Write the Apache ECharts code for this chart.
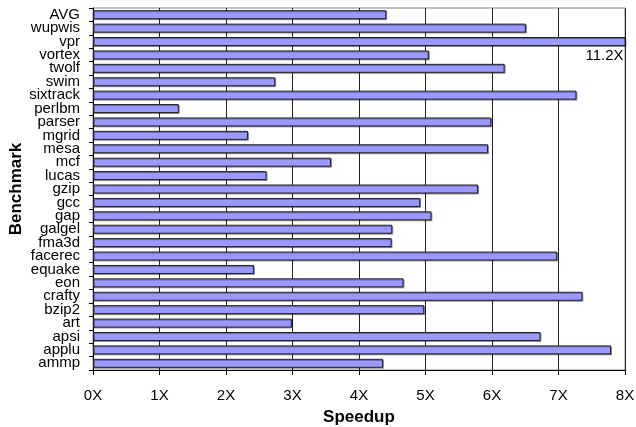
<!DOCTYPE html>
<html><head><meta charset="utf-8">
<script src="https://cdn.jsdelivr.net/npm/echarts@6/dist/echarts.min.js"></script>
<style>html,body{margin:0;padding:0;background:#fff}#c{width:636px;height:427px}</style>
</head><body><div id="c"></div>
<script>
var benchmarks = ["AVG","wupwis","vpr","vortex","twolf","swim","sixtrack","perlbm","parser","mgrid","mesa","mcf","lucas","gzip","gcc","gap","galgel","fma3d","facerec","equake","eon","crafty","bzip2","art","apsi","applu","ammp"];
var speedups = [4.41,6.51,11.2,5.05,6.19,2.74,7.27,1.29,5.99,2.33,5.94,3.58,2.61,5.79,4.92,5.09,4.50,4.49,6.98,2.42,4.67,7.36,4.98,2.99,6.73,7.79,4.36];
var xTicks = ["0X","1X","2X","3X","4X","5X","6X","7X","8X"];
var xMax = 8;

var font = "'Liberation Sans', Arial, Helvetica, sans-serif";
var chart = echarts.init(document.getElementById('c'));
var data = speedups.map(function(v){
  if (v > xMax) {
    return {value: v, label: {show: true, position: 'insideRight', distance: 2, offset: [0, 14],
      formatter: v.toFixed(1) + 'X', color: '#000', fontSize: 15, fontFamily: font}};
  }
  return v;
});
chart.setOption({
  animation: false,
  grid: {left: 93, right: 11, top: 8, bottom: 57, outerBoundsMode: 'none', containLabel: false,
    show: true, borderColor: '#888', borderWidth: 1},
  xAxis: {
    type: 'value', min: 0, max: xMax, interval: 1,
    name: 'Speedup', nameLocation: 'middle', nameGap: 39, nameMoveOverlap: false,
    nameTextStyle: {fontFamily: font, fontWeight: 'bold', fontSize: 17, color: '#000'},
    axisLine: {show: true, lineStyle: {color: '#000', width: 1}},
    axisTick: {show: true, length: 5, lineStyle: {color: '#000'}},
    axisLabel: {margin: 18, fontFamily: font, fontSize: 15, color: '#000',
      formatter: function(v){ return xTicks[Math.round(v)]; }},
    splitLine: {show: true, lineStyle: {color: '#222', width: 1}}
  },
  yAxis: {
    type: 'category', data: benchmarks, inverse: true,
    name: 'Benchmark', nameLocation: 'middle', nameGap: 68, nameRotate: 90, nameMoveOverlap: false,
    nameTextStyle: {fontFamily: font, fontWeight: 'bold', fontSize: 17, color: '#000'},
    axisLine: {show: true, lineStyle: {color: '#000', width: 1}},
    axisTick: {show: true, length: 4, lineStyle: {color: '#000'}},
    axisLabel: {interval: 0, margin: 13, fontFamily: font, fontSize: 15, color: '#000', lineHeight: 14},
    splitLine: {show: false}
  },
  series: [{
    type: 'bar', data: data, barWidth: 9, clip: true,
    itemStyle: {color: '#9999ff', borderColor: '#222', borderWidth: 1,
      shadowColor: 'rgba(0,0,0,0.35)', shadowOffsetX: 1, shadowOffsetY: 1, shadowBlur: 0}
  }]
});
</script></body></html>
